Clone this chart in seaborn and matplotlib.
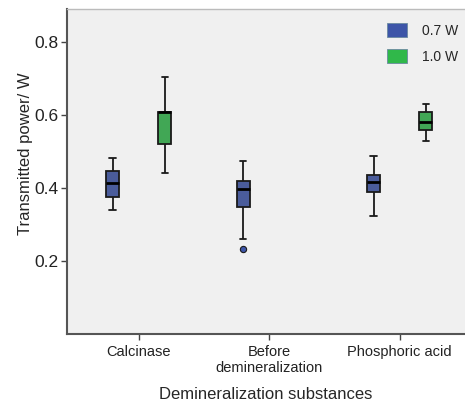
import numpy as np
import pandas as pd
import matplotlib
matplotlib.use("Agg")
import matplotlib.pyplot as plt
import seaborn as sns
from matplotlib.patches import Patch

categories = ["Calcinase", "Before\ndemineralization", "Phosphoric acid"]
power_levels = ["0.7 W", "1.0 W"]

# Box statistics: (category, level) -> values
box_category = ["Calcinase", "Calcinase", "Before\ndemineralization", "Phosphoric acid", "Phosphoric acid"]
box_level = ["0.7 W", "1.0 W", "0.7 W", "0.7 W", "1.0 W"]
whisker_low = [0.339, 0.440, 0.259, 0.323, 0.528]
quartile_1 = [0.376, 0.521, 0.347, 0.388, 0.559]
median = [0.414, 0.607, 0.398, 0.416, 0.581]
quartile_3 = [0.447, 0.607, 0.418, 0.436, 0.607]
whisker_high = [0.481, 0.703, 0.475, 0.488, 0.629]
outliers = [[], [], [0.232], [], []]

colors = {"0.7 W": "#3d55a8", "1.0 W": "#30b84a"}

rows = []
for i in range(len(box_category)):
    lo, q1, md, q3, hi = whisker_low[i], quartile_1[i], median[i], quartile_3[i], whisker_high[i]
    if outliers[i]:
        vals = [outliers[i][0], lo, q1, md, md, md, q3, q3, hi]
    else:
        vals = [lo, q1, q1, md, md, md, q3, q3, hi]
    for v in vals:
        rows.append({"substance": box_category[i], "level": box_level[i], "power": v})
df = pd.DataFrame(rows)

sns.set_style("white")
plt.rcParams["font.family"] = ["Liberation Sans", "DejaVu Sans"]

fig = plt.figure(figsize=(4.65, 4.03), dpi=100)
ax = fig.add_axes([0.144, 0.171, 0.856, 0.807])
ax.set_facecolor("#f0f0f0")

sns.boxplot(data=df, x="substance", y="power", hue="level",
            order=categories, hue_order=power_levels, palette=colors,
            width=0.8, gap=0.75, dodge=True, linecolor="#1a1a1a", linewidth=1.3,
            whis=1.5, fliersize=4.5,
            flierprops=dict(marker="o", markerfacecolor=colors["0.7 W"],
                            markeredgecolor="#1a1a1a", markeredgewidth=0.8),
            medianprops=dict(linewidth=2, color="black"),
            legend=False, ax=ax)

ax.set_ylim(0, 0.89)
ax.set_xlim(-0.55, 2.5)
ax.set_yticks([0.2, 0.4, 0.6, 0.8])
ax.set_yticklabels(["0.2", "0.4", "0.6", "0.8"], fontsize=12.5, color="#222222")
ax.set_xticks(range(len(categories)))
ax.set_xticklabels(categories, fontsize=10.5, color="#222222")
ax.tick_params(axis="both", direction="out", length=4, width=1, color="#444444", left=True, bottom=True)
ax.tick_params(axis="y", pad=2)
ax.set_xlabel("Demineralization substances", fontsize=12, labelpad=9)
ax.set_ylabel("Transmitted power/ W", fontsize=12)
ax.yaxis.set_label_coords(-0.085, 0.555)

for side in ["left", "bottom"]:
    ax.spines[side].set_color("#555555")
    ax.spines[side].set_linewidth(1.5)
ax.spines["top"].set_color("#bbbbbb")
ax.spines["top"].set_linewidth(1)
ax.spines["right"].set_visible(False)

handles = [Patch(facecolor=colors[l], edgecolor="#6a8aa0", linewidth=0.6, label=l) for l in power_levels]
ax.legend(handles=handles, loc="upper right", frameon=False, fontsize=10,
          handlelength=1.4, handleheight=1.2, handletextpad=1.1, labelspacing=0.8,
          bbox_to_anchor=(1.015, 0.995))

fig.savefig("out.png", dpi=100)
